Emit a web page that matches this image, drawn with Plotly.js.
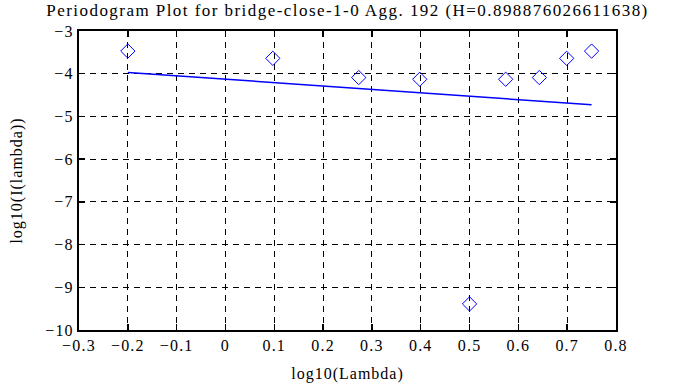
<!DOCTYPE html>
<html><head><meta charset="utf-8">
<script src="https://cdn.plot.ly/plotly-3.0.1.min.js"></script>
<style>
html,body{margin:0;padding:0;background:#fff}#c{width:695px;height:387px}
#c .xtick text, #c .ytick text{letter-spacing:1.2px}
#c .gtitle{letter-spacing:1.45px}
#c .xtitle, #c .ytitle{letter-spacing:1px}
</style>
</head><body><div id="c"></div>
<script>
const logLambda = [-0.2, 0.097, 0.273, 0.398, 0.5, 0.574, 0.643, 0.699, 0.75];
const logI = [-3.47, -3.64, -4.09, -4.13, -9.39, -4.13, -4.09, -3.64, -3.47];
const fitX = [-0.2, 0.75];
const fitY = [-3.97, -4.727];
const titleText = 'Periodogram Plot for bridge-close-1-0 Agg. 192 (H=0.898876026611638)';
const font = {family: '"Liberation Serif", "DejaVu Serif", serif', size: 16, color: '#000'};
const titleFont = Object.assign({}, font, {size: 17});
const axisCommon = {
  showline: true, linecolor: '#000', linewidth: 2, mirror: 'allticks',
  ticks: 'inside', ticklen: 6, tickcolor: '#000', tickwidth: 1.5,
  showgrid: true, gridcolor: '#000', gridwidth: 1, griddash: '6px,5px',
  zeroline: false, tickfont: font
};
const data = [
  {x: logLambda, y: logI, type: 'scatter', mode: 'markers',
   marker: {symbol: 'diamond-open', size: 11, color: '#0000ff', line: {width: 1, color: '#0000ff'}},
   showlegend: false, hoverinfo: 'skip'},
  {x: fitX, y: fitY, type: 'scatter', mode: 'lines',
   line: {color: '#0000ff', width: 1.5}, showlegend: false, hoverinfo: 'skip'}
];
const layout = {
  width: 695, height: 387,
  margin: {l: 79, r: 79, t: 31, b: 57},
  paper_bgcolor: '#fff', plot_bgcolor: '#fff',
  font: font,
  title: {text: titleText, font: titleFont, x: 0.5, xanchor: 'center', y: 0.975, yanchor: 'middle', xref: 'paper'},
  xaxis: Object.assign({}, axisCommon, {range: [-0.3, 0.8], dtick: 0.1, tick0: -0.3,
    title: {text: 'log10(Lambda)', font: font, standoff: 15}}),
  yaxis: Object.assign({}, axisCommon, {range: [-10, -3], dtick: 1,
    title: {text: 'log10(I(lambda))', font: font, standoff: 22}})
};
Plotly.newPlot('c', data, layout, {staticPlot: true, displayModeBar: false});
</script></body></html>
